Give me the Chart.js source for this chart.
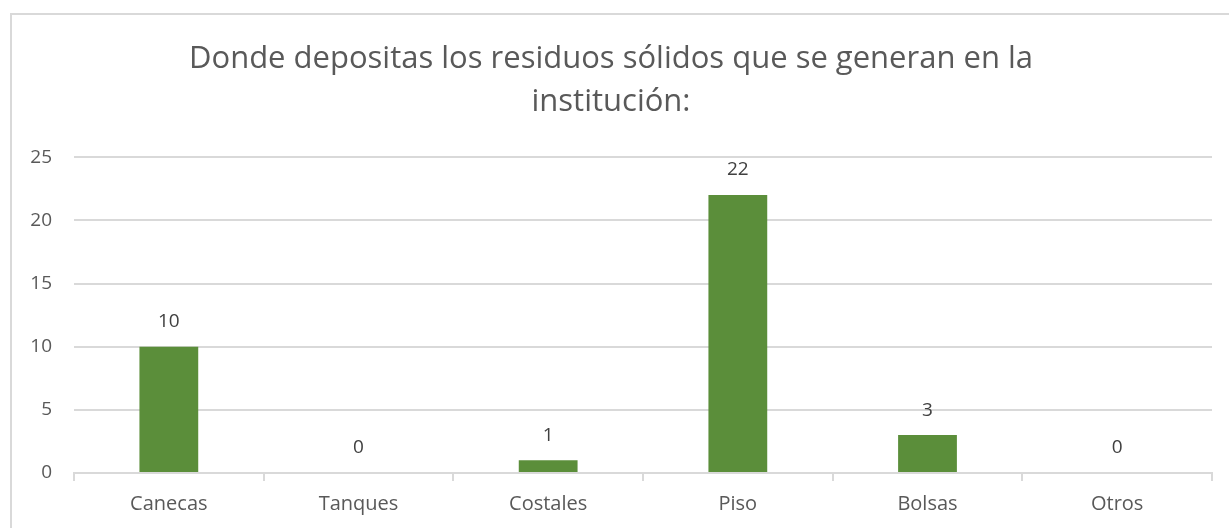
<!DOCTYPE html>
<html><head><meta charset="utf-8">
<script src="https://cdn.jsdelivr.net/npm/chart.js@4/dist/chart.umd.min.js"></script>
<style>
html,body{margin:0;padding:0;background:#fff;}
#wrap{position:relative;width:1229px;height:528px;overflow:hidden;}
#frame{position:absolute;left:10px;top:13px;width:1240px;height:600px;border:2px solid #d9d9d9;box-sizing:border-box;}
canvas{position:absolute;left:0;top:0;}
</style></head>
<body><div id="wrap"><div id="frame"></div><canvas id="c" width="1229" height="528"></canvas></div>
<script>
const categories = ["Canecas","Tanques","Costales","Piso","Bolsas","Otros"];
const values = [10,0,1,22,3,0];
const titleLines = ["Donde depositas los residuos sólidos que se generan en la","institución:"];

const FONT = "'Open Sans', 'Liberation Sans', sans-serif";
const labelPlugin = {
  id:'labels',
  afterDatasetsDraw(chart){
    const ctx = chart.ctx;
    const meta = chart.getDatasetMeta(0);
    ctx.save();
    ctx.font = "19px " + FONT;
    ctx.fillStyle = "#404040";
    ctx.textAlign = "center";
    ctx.textBaseline = "middle";
    meta.data.forEach((bar,i)=>{
      ctx.fillText(String(values[i]), bar.x, bar.y - 25);
    });
    ctx.restore();
  }
};

new Chart(document.getElementById('c'),{
  type:'bar',
  data:{labels:categories,datasets:[{data:values,backgroundColor:'#5B8E3A',borderWidth:0,categoryPercentage:1,barPercentage:0.31}]},
  options:{
    responsive:false,animation:false,
    layout:{padding:{left:10,right:17,top:38,bottom:1}},
    plugins:{
      legend:{display:false},tooltip:{enabled:false},
      title:{display:true,text:titleLines,color:'#595959',font:{family:FONT,size:31,weight:'normal',lineHeight:1.39},padding:{top:0,bottom:33}}
    },
    scales:{
      x:{grid:{display:true,drawOnChartArea:false,offset:true,color:'#d9d9d9',lineWidth:2,tickLength:8,tickColor:'#d9d9d9'},border:{color:'#d9d9d9',width:2},
         ticks:{color:'#595959',font:{family:FONT,size:20},padding:11}},
      y:{min:0,max:25,ticks:{stepSize:5,color:'#595959',font:{family:FONT,size:19},padding:22},
         grid:{color:'#d9d9d9',lineWidth:2,drawTicks:false},border:{display:false},
         afterFit(s){s.width=64;}}
    }
  },
  plugins:[labelPlugin]
});
</script></body></html>
